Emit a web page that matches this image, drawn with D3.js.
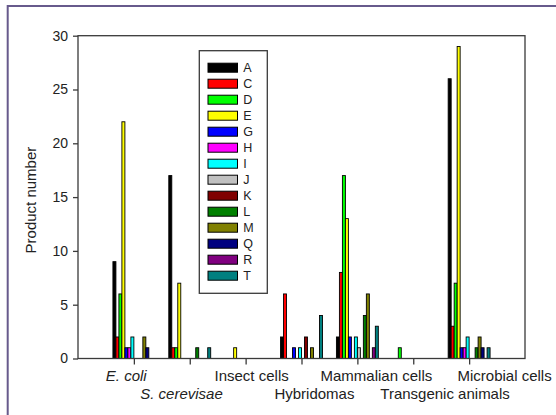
<!DOCTYPE html>
<html>
<head>
<meta charset="utf-8">
<script src="https://cdn.jsdelivr.net/npm/d3@7"></script>
<style>
  html, body { margin: 0; padding: 0; background: #fff; }
  svg { display: block; font-family: "Liberation Sans", Arial, sans-serif; }
</style>
</head>
<body>
<svg id="chart" width="556" height="415"></svg>
<script>
// Expression systems (x categories)
const categories = ["E. coli", "S. cerevisae", "Insect cells", "Hybridomas",
                    "Mammalian cells", "Transgenic animals", "Microbial cells"];
const italicCategories = ["E. coli", "S. cerevisae"];

// Product classes (series) and their fills
const seriesNames = ["A", "C", "D", "E", "G", "H", "I", "J", "K", "L", "M", "Q", "R", "T"];
const seriesColors = ["#000000", "#ff0000", "#00ff00", "#ffff00", "#0000ff", "#ff00ff", "#00ffff",
                      "#c0c0c0", "#800000", "#008000", "#808000", "#000080", "#800080", "#008080"];

// Product counts per series, one value per category
const valuesA = [9, 17, 0, 2, 2, 0, 26];
const valuesC = [2, 1, 0, 6, 8, 0, 3];
const valuesD = [6, 1, 0, 0, 17, 1, 7];
const valuesE = [22, 7, 1, 0, 13, 0, 29];
const valuesG = [1, 0, 0, 1, 2, 0, 1];
const valuesH = [1, 0, 0, 0, 0, 0, 1];
const valuesI = [2, 0, 0, 1, 2, 0, 2];
const valuesJ = [0, 0, 0, 0, 1, 0, 0];
const valuesK = [0, 0, 0, 2, 0, 0, 0];
const valuesL = [0, 1, 0, 0, 4, 0, 1];
const valuesM = [2, 0, 0, 1, 6, 0, 2];
const valuesQ = [1, 0, 0, 0, 0, 0, 1];
const valuesR = [0, 0, 0, 0, 1, 0, 0];
const valuesT = [0, 1, 0, 4, 3, 0, 1];

const yTicks = [0, 5, 10, 15, 20, 25, 30];

const seriesValues = [valuesA, valuesC, valuesD, valuesE, valuesG, valuesH, valuesI,
                      valuesJ, valuesK, valuesL, valuesM, valuesQ, valuesR, valuesT];

// ---- layout ----
const plot = { left: 78, right: 525, top: 35.7, bottom: 358.5 };
const groupFraction = 0.75;
// horizontal nudges of the staggered category labels (px), and their row
const labelShift = [-7.6, -8.2, 6, 12.9, 19, 31.8, 35.5];

const svg = d3.select("#chart");

// outer frame
svg.append("rect")
  .attr("x", 7.7).attr("y", 6).attr("width", 620).attr("height", 500)
  .attr("fill", "none").attr("stroke", "#675a8c").attr("stroke-width", 2);

const x = d3.scaleLinear().domain([0, categories.length + 1]).range([plot.left, plot.right]);
const y = d3.scaleLinear().domain([0, 30]).range([plot.bottom, plot.top]);

const unit = x(1) - x(0);
const barW = unit * groupFraction / seriesNames.length;

// bars
const bars = [];
seriesValues.forEach((vals, s) => {
  vals.forEach((v, c) => {
    if (v > 0) bars.push({ s, c, v });
  });
});

svg.append("g").selectAll("rect")
  .data(bars)
  .join("rect")
  .attr("x", d => x(d.c + 1) - unit * groupFraction / 2 + d.s * barW)
  .attr("y", d => y(d.v))
  .attr("width", barW)
  .attr("height", d => y(0) - y(d.v))
  .attr("fill", d => seriesColors[d.s])
  .attr("stroke", "#000")
  .attr("stroke-width", 0.9);

// plot box
svg.append("rect")
  .attr("x", plot.left).attr("y", plot.top)
  .attr("width", plot.right - plot.left).attr("height", plot.bottom - plot.top)
  .attr("fill", "none").attr("stroke", "#3a3a3a").attr("stroke-width", 1.3);

// y axis
const yAxis = svg.append("g")
  .attr("transform", `translate(${plot.left},0)`)
  .call(d3.axisLeft(y).tickValues(yTicks).tickSize(5).tickPadding(5).tickFormat(d3.format("d")));
yAxis.select(".domain").remove();
yAxis.selectAll(".tick line").attr("stroke", "#3a3a3a").attr("stroke-width", 1.3);
yAxis.selectAll(".tick text")
  .attr("font-size", 14).attr("fill", "#222")
  .attr("font-family", "'Liberation Sans', Arial, sans-serif");

// x axis ticks at category centres
const xAxis = svg.append("g")
  .attr("transform", `translate(0,${plot.bottom})`)
  .call(d3.axisBottom(x).tickValues(d3.range(1, categories.length + 1)).tickSize(6).tickFormat(""));
xAxis.select(".domain").remove();
xAxis.selectAll(".tick line").attr("stroke", "#3a3a3a").attr("stroke-width", 1.3);

// staggered category labels
svg.append("g").selectAll("text")
  .data(categories)
  .join("text")
  .attr("x", (d, i) => x(i + 1) + labelShift[i])
  .attr("y", (d, i) => (i % 2 === 0 ? 381 : 399))
  .attr("text-anchor", "middle")
  .attr("font-size", 15)
  .attr("font-style", d => italicCategories.includes(d) ? "italic" : "normal")
  .attr("fill", "#222")
  .text(d => d);

// y axis title
svg.append("text")
  .attr("transform", `translate(36,${(plot.top + plot.bottom) / 2 + 3}) rotate(-90)`)
  .attr("text-anchor", "middle")
  .attr("font-size", 15)
  .attr("fill", "#222")
  .text("Product number");

// legend
const legend = svg.append("g");
legend.append("rect")
  .attr("x", 199.3).attr("y", 50.7).attr("width", 68).attr("height", 242.6)
  .attr("fill", "#fff").attr("stroke", "#3a3a3a").attr("stroke-width", 1.3);

const rows = legend.selectAll("g.row")
  .data(seriesNames)
  .join("g")
  .attr("class", "row")
  .attr("transform", (d, i) => `translate(0,${67.7 + i * 16})`);
rows.append("rect")
  .attr("x", 208).attr("y", -4.5).attr("width", 29.5).attr("height", 9)
  .attr("fill", (d, i) => seriesColors[i])
  .attr("stroke", "#000").attr("stroke-width", 1);
rows.append("text")
  .attr("x", 243.3).attr("y", 4.5)
  .attr("font-size", 12.5)
  .attr("fill", "#222")
  .text(d => d);
</script>
</body>
</html>
